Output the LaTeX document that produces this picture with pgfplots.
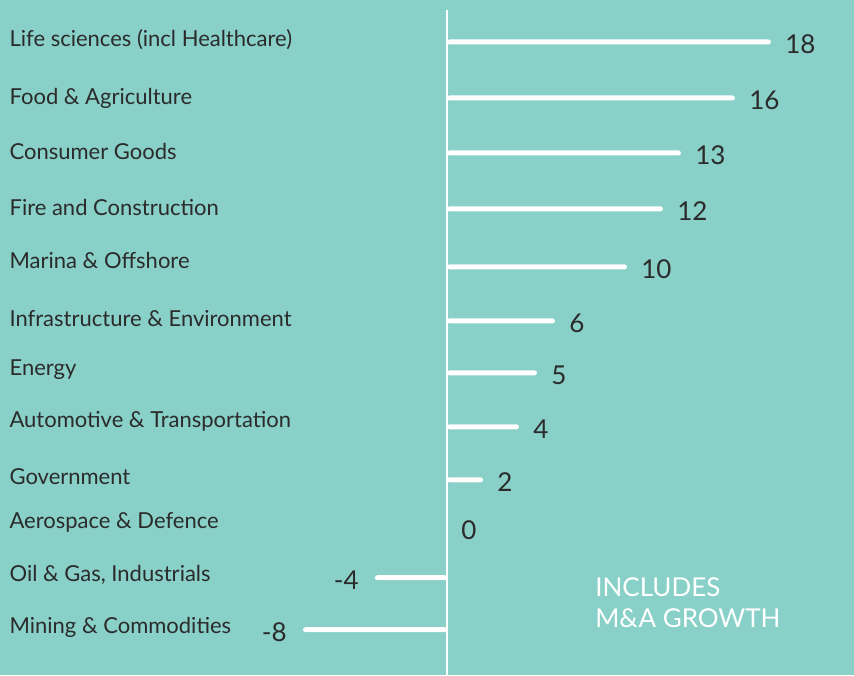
\documentclass[border=0pt]{standalone}
\usepackage{fontspec}
\setmainfont{Lato}
\usepackage{pgfplots}
\pgfplotsset{compat=1.18}
\definecolor{BgTeal}{HTML}{88D0C8}
\definecolor{LabelGray}{HTML}{2B2B2B}

% y = row position (pixels from top, negated), v = value
\pgfplotstableread{
y     v    lab
-42   18   18
-98   16   16
-153  13   13
-209  12   12
-267  10   10
-321  6    6
-373  5    5
-427  4    4
-480  2    2
-528  0    0
}\posdata
\pgfplotstableread{
y     v    lab
-578  -4   -4
-630  -8   -8
}\negdata

\begin{document}
\begin{tikzpicture}
\begin{axis}[
  width=427pt, height=337.5pt, scale only axis,
  xmin=-24.83, xmax=22.61,
  ymin=-675, ymax=0,
  axis background/.style={fill=BgTeal},
  axis line style={draw=none},
  xtick=\empty,
  ytick={-40,-98,-152,-208,-261,-319,-370,-422,-477,-523,-575,-628},
  yticklabels={Life sciences (incl Healthcare),Food \& Agriculture,Consumer Goods,Fire and Construction,Marina \& Offshore,Infrastructure \& Environment,Energy,Automotive \& Transportation,Government,Aerospace \& Defence,{Oil \& Gas, Industrials},Mining \& Commodities},
  major tick length=0pt,
  yticklabel style={anchor=west, xshift=4.5pt, font=\fontsize{11}{13}\selectfont, text=LabelGray, inner sep=0pt},
  xbar, bar width=2.5pt, bar shift=0pt,
  clip=false,
]
\draw[white, line width=1pt] (axis cs:0,-10) -- (axis cs:0,-675);
\addplot[fill=white, draw=none, rounded corners=1.2pt,
  nodes near coords, point meta=explicit symbolic,
  every node near coord/.append style={anchor=west, inner sep=0pt, xshift=7pt, yshift=-1pt, text=LabelGray, font=\fontsize{13}{15}\selectfont}]
  table[x=v, y=y, meta=lab] {\posdata};
\addplot[fill=white, draw=none, rounded corners=1.2pt,
  nodes near coords, point meta=explicit symbolic,
  every node near coord/.append style={anchor=east, inner sep=0pt, xshift=-8pt, yshift=-1pt, text=LabelGray, font=\fontsize{13}{15}\selectfont}]
  table[x=v, y=y, meta=lab] {\negdata};
\node[anchor=west, align=left, text=white, inner sep=0pt, font=\fontsize{13}{15.5}\selectfont] at (axis cs:8.22,-603) {INCLUDES\\M\&A GROWTH};
\end{axis}
\end{tikzpicture}
\end{document}
